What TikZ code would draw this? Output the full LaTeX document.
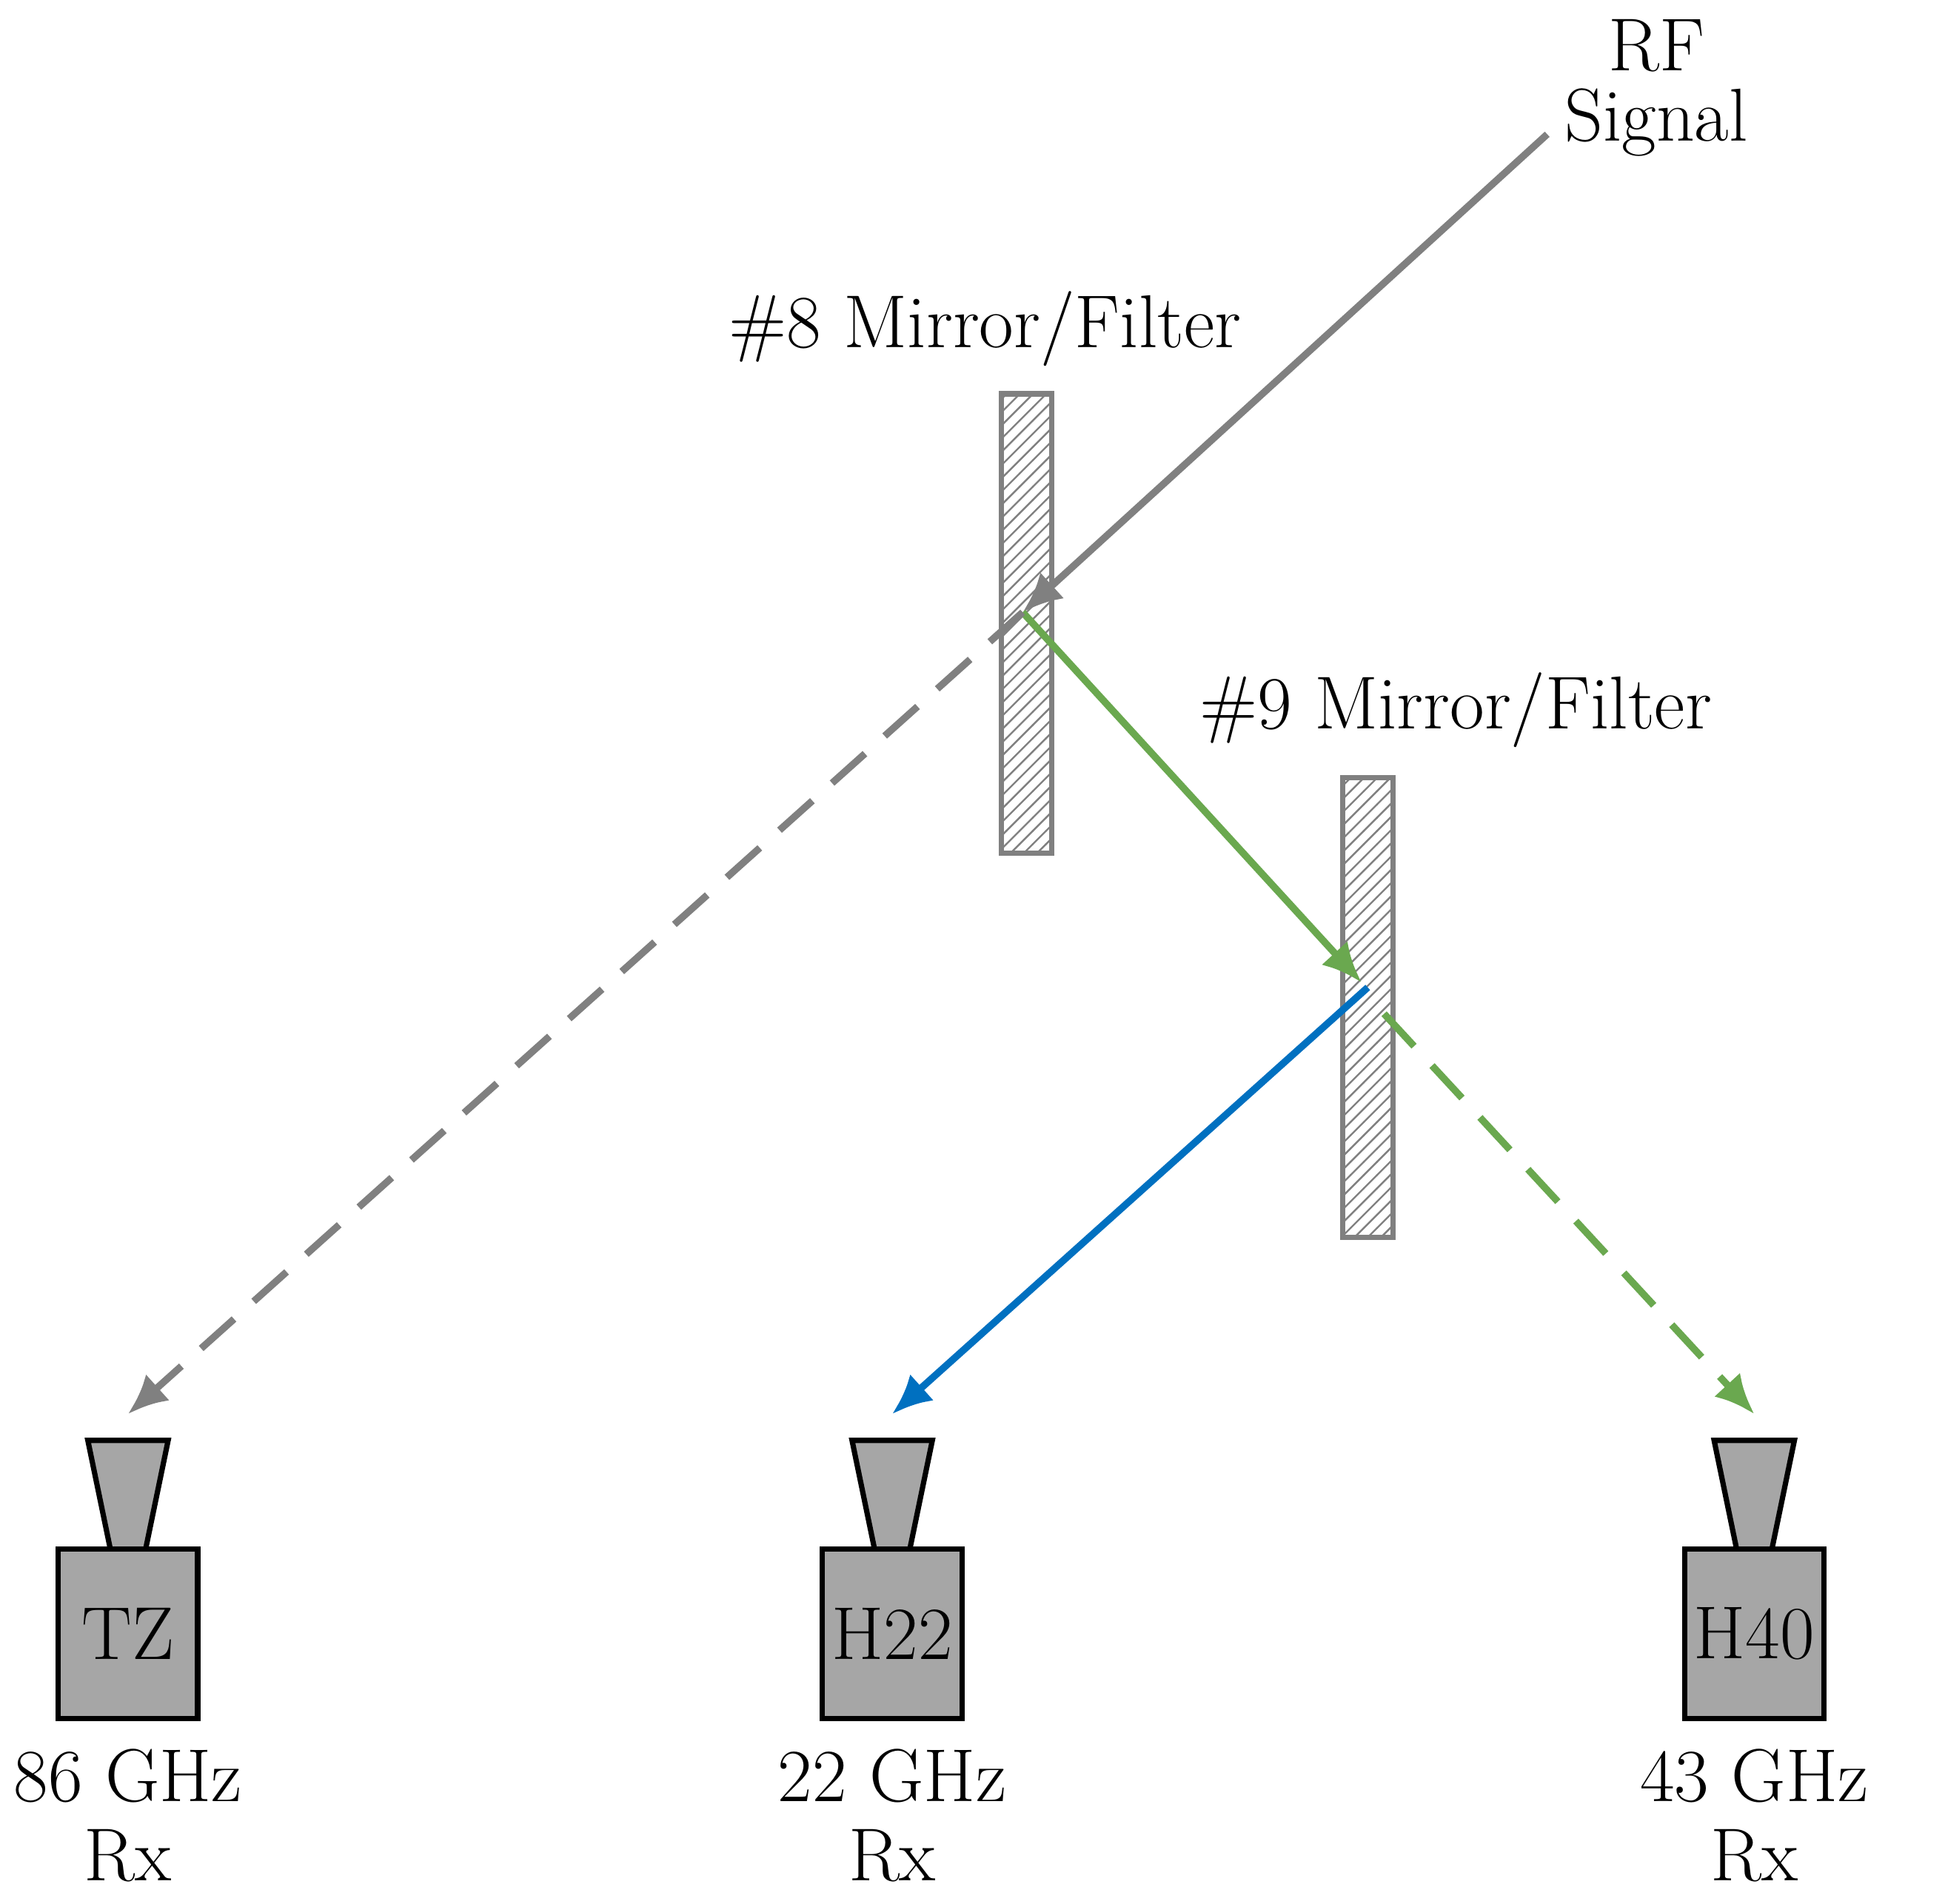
\documentclass[tikz,border=0pt]{standalone}
\usetikzlibrary{arrows.meta,positioning,patterns,calc}
\definecolor{beamgray}{RGB}{128,128,128}
\definecolor{beamgreen}{RGB}{106,168,79}
\definecolor{beamblue}{RGB}{0,112,192}
\definecolor{rxgray}{RGB}{166,166,166}
\begin{document}
\begin{tikzpicture}[
    x=0.01cm, y=-0.01cm,
    every node/.style={
        font=\fontsize{17}{20}\selectfont,
    },
    mirror/.style={draw=beamgray, line width=1.2pt, pattern=north east lines, pattern color=beamgray,
        minimum width=0.4cm, minimum height=3.66cm, inner sep=0pt},
    horn/.style={draw=black, fill=rxgray, line width=1.2pt},
    rxbox/.style={draw=black, fill=rxgray, line width=1.2pt, minimum width=1.11cm, minimum height=1.35cm, inner sep=0pt},
    beam/.style={line width=1.6pt, -{Latex[length=9pt,width=8pt]}},
    dashbeam/.style={beam, dash pattern=on 10pt off 6pt},
]
    \useasboundingbox (0,0) rectangle (1550,1517);
    % mirrors
    \node[mirror] (m8) at (818,497) {};
    \node[mirror] (m9) at (1090,803) {};
    \node (m8lbl) at (785,262) {\#8 Mirror/Filter};
    \node (m9lbl) at (1160,566) {\#9 Mirror/Filter};
    \node[align=center] (rf) at (1320,70) {RF\\[-4pt]Signal};
    % beam points
    \coordinate (rfend) at (1233,107);
    \coordinate (hit8) at (815,488);
    \coordinate (hit9) at (1090,787);
    \coordinate (out9) at (1103,808);
    % receivers
    \foreach \x/\name/\lbl/\freq in {102/tz/TZ/86, 711/hh/H22/22, 1398/hq/H40/43}{
        \draw[horn] (\x-32,1148) -- (\x+32,1148) -- (\x+14,1235) -- (\x-14,1235) -- cycle;
        \node[rxbox] (\name) at (\x,1302) {\lbl};
        \node[align=center, below=0.1cm of \name] (\name f) {\freq\ GHz\\[-2pt]Rx};
        \coordinate (\name top) at (\x,1127);
    }
    % beams
    \draw[beam, beamgray] (rfend) -- (hit8);
    \draw[beam, beamgreen] (hit8) -- ($(hit9)+(-5,-4)$);
    \draw[dashbeam, beamgray] (hit8) -- (tztop);
    \draw[beam, beamblue] (hit9) -- (hhtop);
    \draw[dashbeam, beamgreen] (out9) -- (hqtop);
\end{tikzpicture}
\end{document}
